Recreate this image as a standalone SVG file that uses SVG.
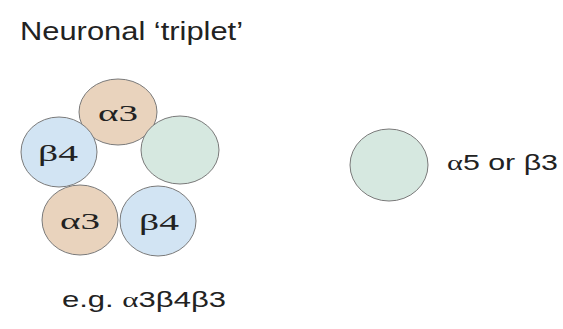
<svg xmlns="http://www.w3.org/2000/svg" width="563" height="329" viewBox="0 0 563 329">
<style>
.a{fill:#e9d3bd;stroke:#7a7a7a;stroke-width:1}
.b{fill:#d2e4f3;stroke:#7a7a7a;stroke-width:1}
.g{fill:#d6e8e0;stroke:#7a7a7a;stroke-width:1}
.sub{font-family:"Liberation Serif",serif;font-size:24px;fill:#222;text-anchor:middle}
.lab{font-family:"Liberation Sans",Arial,sans-serif;fill:#222}
.gr{font-family:"Liberation Serif",serif}
</style>
<rect width="563" height="329" fill="#fff"/>
<text class="lab" x="20" y="40" font-size="25" textLength="223" lengthAdjust="spacingAndGlyphs">Neuronal ‘triplet’</text>
<g id="alpha3-top"><ellipse class="a" cx="118" cy="112" rx="39" ry="33"/><text class="sub" x="118" y="121" textLength="40" lengthAdjust="spacingAndGlyphs">α3</text></g>
<g id="green-right"><ellipse class="g" cx="180" cy="150" rx="39" ry="34"/></g>
<g id="beta4-left"><ellipse class="b" cx="59" cy="152" rx="38" ry="35"/><text class="sub" x="58" y="161" textLength="40" lengthAdjust="spacingAndGlyphs">β4</text></g>
<g id="alpha3-bottom"><ellipse class="a" cx="80" cy="220" rx="38" ry="35"/><text class="sub" x="80" y="229" textLength="40" lengthAdjust="spacingAndGlyphs">α3</text></g>
<g id="beta4-bottom"><ellipse class="b" cx="158" cy="221" rx="38" ry="35"/><text class="sub" x="159" y="230" textLength="40" lengthAdjust="spacingAndGlyphs">β4</text></g>
<g id="legend-circle"><ellipse class="g" cx="389" cy="165" rx="39" ry="36"/></g>
<text class="lab" x="447" y="170" font-size="22" textLength="111" lengthAdjust="spacingAndGlyphs"><tspan class="gr">α</tspan>5 or β3</text>
<text class="lab" x="62" y="307" font-size="22" textLength="164" lengthAdjust="spacingAndGlyphs">e.g. <tspan class="gr">α</tspan>3β4β3</text>
</svg>
